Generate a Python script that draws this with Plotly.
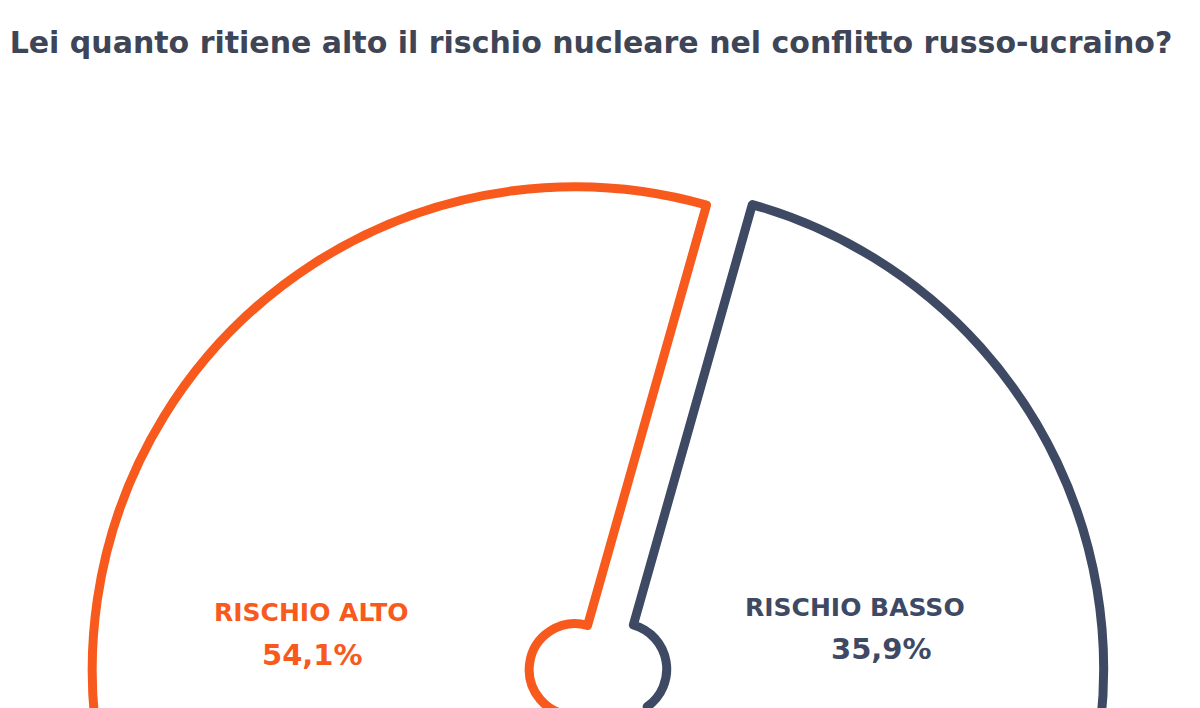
import plotly.graph_objects as go

# survey answers (third slice sits below the visible crop)
labels = ["RISCHIO BASSO", "NON SA", "RISCHIO ALTO"]
values = [35.9, 10.0, 54.1]
outline_colors = ["#3E4963", "white", "#F75A1C"]
pulls = [0.048, 0, 0.048]

title_text = "Lei quanto ritiene alto il rischio nucleare nel conflitto russo-ucraino?"

W, H = 1200, 1200  # taller than the window: only the top half of the pie shows

pie = go.Pie(
    labels=labels,
    values=values,
    sort=False,
    direction="clockwise",
    rotation=15.8,
    hole=0.095,
    pull=pulls,
    textinfo="none",
    hoverinfo="label+percent",
    marker=dict(colors=["white"] * len(values),
                line=dict(color=outline_colors, width=9)),
    domain=dict(x=[83 / W, 1097 / W], y=[1 - 1171 / H, 1 - 159 / H]),
    showlegend=False,
)

fig = go.Figure(data=pie)


def fmt(v):
    return f"{v:.1f}%".replace(".", ",")


# label / value positions (pixels from top-left of the figure)
pos = {
    "RISCHIO ALTO": ((303, 604), (304, 647)),
    "RISCHIO BASSO": ((847, 599), (873, 641)),
}
for lab, val, col in zip(labels, values, outline_colors):
    if lab not in pos:
        continue
    (lx, ly), (vx, vy) = pos[lab]
    fig.add_annotation(x=lx / W, y=1 - ly / H, xref="paper", yref="paper",
                       xanchor="center", yanchor="middle",
                       text=f"<b>{lab}</b>", showarrow=False,
                       font=dict(family="DejaVu Sans", size=25, color=col))
    fig.add_annotation(x=vx / W, y=1 - vy / H, xref="paper", yref="paper",
                       xanchor="center", yanchor="middle",
                       text=f"<b>{fmt(val)}</b>", showarrow=False,
                       font=dict(family="DejaVu Sans", size=29, color=col))

fig.update_layout(
    width=W,
    height=H,
    margin=dict(t=0, b=0, l=0, r=0),
    paper_bgcolor="white",
    plot_bgcolor="white",
    title=dict(text=f"<b>{title_text}</b>", x=583 / W, xanchor="center",
               y=1 - 34 / H, yanchor="middle", yref="container",
               font=dict(family="DejaVu Sans", size=30, color="#3E4556")),
)

fig.write_html("out.html")
